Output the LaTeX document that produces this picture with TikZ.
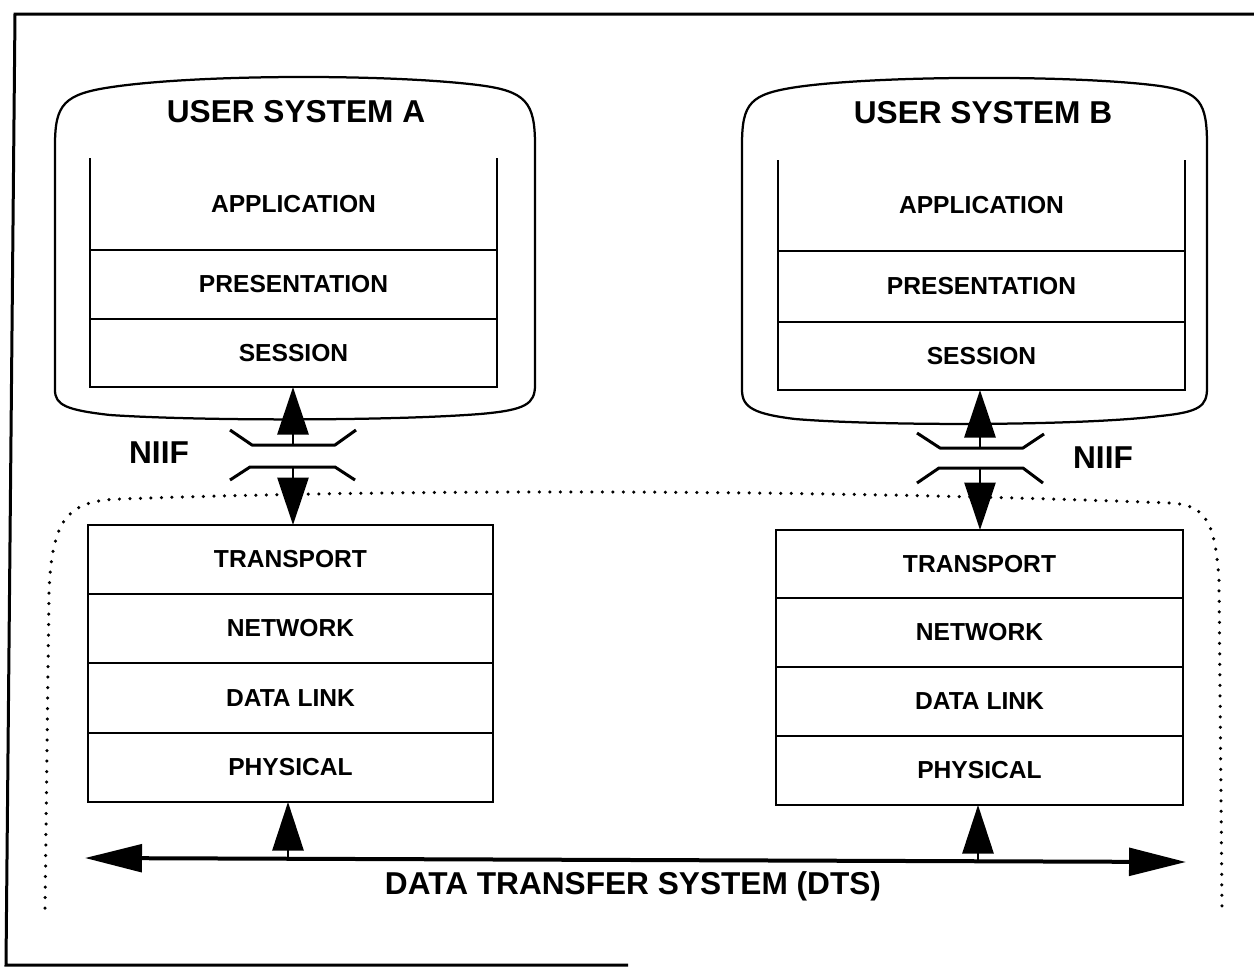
\documentclass[tikz,border=0pt]{standalone}
\usepackage{fontspec}
\setmainfont{Liberation Sans}
\usetikzlibrary{arrows.meta}
\begin{document}
\begin{tikzpicture}[x=0.02cm, y=-0.02cm,
  frame/.style={line width=0.06cm},
  usys/.style={line width=0.045cm, line join=round},
  layer/.style={draw, line width=0.045cm, inner sep=0pt, outer sep=0pt,
    minimum width=#1*0.02cm, font=\bfseries\fontsize{14}{14}\selectfont},
  layer/.default=407,
  open/.style={layer, draw=none},
  title/.style={font=\bfseries\fontsize{18}{18}\selectfont, inner sep=0pt},
  bracket/.style={line width=0.06cm, line join=round},
  niif/.style={line width=0.055cm, -{Triangle[length=0.95cm, width=0.62cm]}},
  bus/.style={line width=0.08cm, {Triangle[length=1.14cm, width=0.55cm]}-{Triangle[length=1.14cm, width=0.55cm]}},
  busarrow/.style={line width=0.055cm, -{Triangle[length=0.97cm, width=0.62cm]}},
  boundary/.style={line width=0.07cm, line cap=round, dash pattern=on 0pt off 0.21cm}]

\useasboundingbox (0,0) rectangle (1254,968);

% outer frame
\draw[frame] (1254,14) -- (15,14) -- (6,965) -- (628,965);

% user system outlines
\draw[usys] (55,390) -- (55,145) .. controls (55,104) and (64,94) .. (112,87)
  .. controls (200,74) and (390,74) .. (478,85)
  .. controls (526,91) and (535,102) .. (535,145) -- (535,385)
  .. controls (535,404) and (526,410) .. (480,414)
  .. controls (390,421) and (200,421) .. (110,415)
  .. controls (66,410) and (55,405) .. (55,390) -- cycle;
\draw[usys] (742,390) -- (742,145) .. controls (742,103) and (750,94) .. (797,87)
  .. controls (880,75) and (1080,75) .. (1160,86)
  .. controls (1200,92) and (1207,102) .. (1207,145) -- (1207,388)
  .. controls (1207,406) and (1200,412) .. (1160,416)
  .. controls (1080,426) and (880,426) .. (795,419)
  .. controls (755,414) and (742,408) .. (742,390) -- cycle;

\node[title] (sysA) at (296,112) {USER SYSTEM A};
\node[title] (sysB) at (983,113) {USER SYSTEM B};

% upper layers, system A
\node[open, minimum height=92*0.02cm] (aApp) at (293.5,204) {APPLICATION};
\node[layer, minimum height=69*0.02cm] (aPre) at (293.5,284.5) {PRESENTATION};
\node[layer, minimum height=68*0.02cm] (aSes) at (293.5,353) {SESSION};
\draw[line width=0.045cm] (aApp.north west) -- (aApp.south west) -- (aApp.south east) -- (aApp.north east);

% upper layers, system B
\node[open, minimum height=91*0.02cm] (bApp) at (981.5,205.5) {APPLICATION};
\node[layer, minimum height=71*0.02cm] (bPre) at (981.5,286.5) {PRESENTATION};
\node[layer, minimum height=68*0.02cm] (bSes) at (981.5,356) {SESSION};
\draw[line width=0.045cm] (bApp.north west) -- (bApp.south west) -- (bApp.south east) -- (bApp.north east);

% lower layers, system A
\node[layer=405, minimum height=69*0.02cm] (aTr) at (290.5,559.5) {TRANSPORT};
\node[layer=405, minimum height=69*0.02cm] (aNet) at (290.5,628.5) {NETWORK};
\node[layer=405, minimum height=70*0.02cm] (aDl) at (290.5,698) {DATA LINK};
\node[layer=405, minimum height=69*0.02cm] (aPhy) at (290.5,767.5) {PHYSICAL};

% lower layers, system B
\node[layer, minimum height=68*0.02cm] (bTr) at (979.5,564) {TRANSPORT};
\node[layer, minimum height=69*0.02cm] (bNet) at (979.5,632.5) {NETWORK};
\node[layer, minimum height=69*0.02cm] (bDl) at (979.5,701.5) {DATA LINK};
\node[layer, minimum height=69*0.02cm] (bPhy) at (979.5,770.5) {PHYSICAL};

% data transfer system boundary
\draw[boundary] (45,908) -- (49,592) .. controls (52,515) and (70,501) .. (120,499)
  .. controls (400,489) and (800,489) .. (1170,503)
  .. controls (1205,505) and (1215,520) .. (1219,580) -- (1222,908);

% interface brackets
\draw[bracket] (230,430) -- (252,445) -- (335,445) -- (356,430);
\draw[bracket] (230,480) -- (250,467) -- (335,467) -- (355,480);
\draw[bracket] (917,433) -- (940,448) -- (1023,448) -- (1044,434);
\draw[bracket] (917,483) -- (939,468) -- (1023,468) -- (1043,483);

\coordinate (aUp) at (293,445);
\coordinate (aDn) at (293,467);
\coordinate (bUp) at (980,448);
\coordinate (bDn) at (980,468);

\draw[niif] (aUp) -- (aUp |- aSes.south);
\draw[niif] (aDn) -- (aDn |- aTr.north);
\draw[niif] (bUp) -- (bUp |- bSes.south);
\draw[niif] (bDn) -- (bDn |- bTr.north);

\node[title] (niifA) at (159,453) {NIIF};
\node[title] (niifB) at (1103,458) {NIIF};

% data transfer system bus
\coordinate (busL) at (85,858);
\coordinate (busR) at (1186,862);
\draw[bus] (busL) -- (busR);
\coordinate (aBus) at (288,859);
\coordinate (bBus) at (978,861);
\draw[busarrow] (aBus) -- (aBus |- aPhy.south);
\draw[busarrow] (bBus) -- (bBus |- bPhy.south);

\node[title] (dts) at (633,886) {DATA TRANSFER SYSTEM (DTS)};
\end{tikzpicture}
\end{document}
